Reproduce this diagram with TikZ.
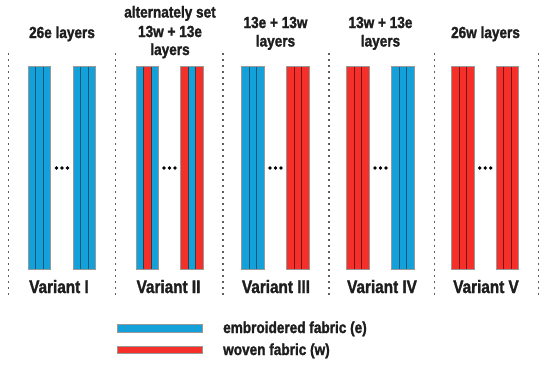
\documentclass[tikz,border=0pt]{standalone}
\usepackage{fontspec}
\setmainfont{Liberation Sans}
\newfontfamily\boldnarrow[Extension=.ttf,UprightFont=*-Bold,FakeStretch=0.85,FakeBold=1.6]{LiberationSans}
\definecolor{eblue}{HTML}{14A0D8}
\definecolor{wred}{HTML}{F5302A}
\definecolor{eblued}{HTML}{0B5878}
\definecolor{wredd}{HTML}{7A1212}
\definecolor{mixd}{HTML}{3A3A3A}
\definecolor{txt}{HTML}{1E1E1E}
\definecolor{dotg}{HTML}{606060}
\newcommand\fabbar[5]{%
  \fill[#2] (#1,66) rectangle ++(7.57,203.5);
  \fill[#3] (#1+7.57,66) rectangle ++(7.57,203.5);
  \fill[#4] (#1+15.13,66) rectangle ++(7.57,203.5);
  \draw[#5,line width=0.9pt] (#1+7.57,66) -- ++(0,203.5) (#1+15.13,66) -- ++(0,203.5);
  \draw[gray!80,line width=0.6pt] (#1,66) rectangle ++(22.7,203.5);
}
\tikzset{
  title/.style={font=\boldnarrow\fontsize{16}{19}\selectfont, text=txt, anchor=base, inner sep=0pt, align=center},
  vlabel/.style={font=\boldnarrow\fontsize{18}{20}\selectfont, text=txt, anchor=base, inner sep=0pt},
  legtext/.style={font=\boldnarrow\fontsize{16}{19}\selectfont, text=txt, anchor=base west, inner sep=0pt},
  divider/.style={dotg, line width=1.6pt, dash pattern=on 1.6pt off 4.4pt},
  ell/.style={circle, fill=black, inner sep=0pt, minimum size=3.8pt},
}
\begin{document}
\begin{tikzpicture}[x=1pt,y=-1pt]
\useasboundingbox (0,0) rectangle (550,368);
% dividers
\foreach \d [count=\i] in {8.5,115.5,222.8,329,434.5,538.5}{
  \coordinate (dt\i) at (\d,53);
  \coordinate (db\i) at (\d,296);
  \draw[divider] (dt\i) -- (db\i);
}
% bars
\fabbar{28}{eblue}{eblue}{eblue}{eblued}
\fabbar{73}{eblue}{eblue}{eblue}{eblued}
\fabbar{136}{eblue}{wred}{eblue}{mixd}
\fabbar{180.7}{wred}{eblue}{wred}{mixd}
\fabbar{241.7}{eblue}{eblue}{eblue}{eblued}
\fabbar{286.7}{wred}{wred}{wred}{wredd}
\fabbar{346.7}{wred}{wred}{wred}{wredd}
\fabbar{391.7}{eblue}{eblue}{eblue}{eblued}
\fabbar{451.7}{wred}{wred}{wred}{wredd}
\fabbar{496}{wred}{wred}{wred}{wredd}
% ellipsis dots
\foreach \c [count=\i] in {62,169.5,275.5,380.5,485.2}{
  \node[ell] (e\i a) at (\c-5.5,168) {};
  \node[ell] (e\i b) at (\c,168) {};
  \node[ell] (e\i c) at (\c+5.5,168) {};
}
% titles
\node[title] (t1) at (62,38) {26e layers};
\node[title] (t2a) at (170,17.5) {alternately set};
\node[title] (t2b) at (170,37) {13w + 13e};
\node[title] (t2c) at (170,55) {layers};
\node[title] (t3a) at (275.5,28) {13e + 13w};
\node[title] (t3b) at (275.5,46.5) {layers};
\node[title] (t4a) at (380.5,28) {13w + 13e};
\node[title] (t4b) at (380.5,46.5) {layers};
\node[title] (t5) at (485.5,38) {26w layers};
% variant labels
\node[vlabel] (v1) at (59,293) {Variant I};
\node[vlabel] (v2) at (168.5,293) {Variant II};
\node[vlabel] (v3) at (276,293) {Variant III};
\node[vlabel] (v4) at (382,293) {Variant IV};
\node[vlabel] (v5) at (486,293) {Variant V};
% legend
\fill[eblue] (117.5,324) rectangle (202.7,332.3);
\draw[gray!80,line width=0.6pt] (117.5,324) rectangle (202.7,332.3);
\fill[wred] (117.5,346) rectangle (202.7,353.3);
\draw[gray!80,line width=0.6pt] (117.5,346) rectangle (202.7,353.3);
\node[legtext] (l1) at (223,333) {embroidered fabric (e)};
\node[legtext] (l2) at (223,355) {woven fabric (w)};
\end{tikzpicture}
\end{document}
